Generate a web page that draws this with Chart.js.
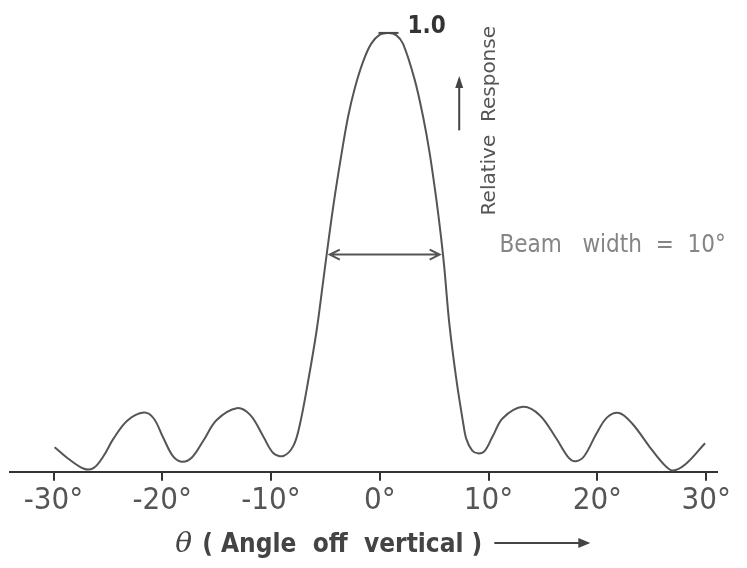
<!DOCTYPE html>
<html>
<head>
<meta charset="utf-8">
<script src="https://cdn.jsdelivr.net/npm/chart.js@4"></script>
<style>
  body { margin: 0; background: #fff; }
  canvas { display: block; }
</style>
</head>
<body>
<canvas id="beam" width="747" height="568"></canvas>
<script>
// angle off vertical (deg) and relative response
const angles = [-29.9, -28.7, -27.2, -26.3, -25.4, -24.5, -23.2, -21.7, -20.8, -19.9, -19.0, -18.2,
  -17.3, -16.2, -15.0, -13.15, -11.9, -10.7, -9.8, -8.87, -7.95, -7.34, -6.58, -5.81, -5.23,
  -4.86, -4.28, -3.51, -2.91, -2.29, -1.53, -0.8, 0, 0.8, 1.5, 2.14, 3.21, 3.97, 4.59, 5.2,
  5.65, 5.93, 6.38, 7.04, 7.64, 7.95, 8.5, 9.02, 9.63, 10.4, 11.3, 13.15, 14.7, 16.2, 17.4,
  18.04, 18.8, 19.9, 20.9, 22.0, 23.2, 24.8, 26.0, 26.9, 28.1, 29.9];
const response = [0.056, 0.031, 0.007, 0.009, 0.036, 0.075, 0.117, 0.135, 0.122, 0.077, 0.035, 0.023,
  0.032, 0.072, 0.118, 0.145, 0.129, 0.080, 0.043, 0.036, 0.059, 0.109, 0.208, 0.322, 0.430,
  0.500, 0.605, 0.726, 0.810, 0.875, 0.935, 0.975, 0.996, 1.0, 0.995, 0.975, 0.893, 0.810, 0.725, 0.620,
  0.530, 0.465, 0.340, 0.210, 0.115, 0.075, 0.048, 0.042, 0.047, 0.082, 0.122, 0.148, 0.129, 0.077, 0.031,
  0.024, 0.036, 0.086, 0.124, 0.134, 0.110, 0.057, 0.020, 0.003, 0.017, 0.065];
const xTicks = [-30, -20, -10, 0, 10, 20, 30];

// beam width marker (half power points) and label anchors, in data units
const beamEdges = [-4.6, 5.5];
const beamLevel = 0.495;
const peakAngle = 0.8;

const ink = "#4a4a4a";

const notes = {
  id: "notes",
  afterDraw(chart) {
    const c = chart.ctx, x = chart.scales.x, y = chart.scales.y;
    c.save();
    c.strokeStyle = ink;
    c.fillStyle = ink;
    c.lineWidth = 2;

    // peak mark + 1.0
    let px = x.getPixelForValue(peakAngle), py = y.getPixelForValue(1.0);
    c.beginPath();
    c.moveTo(px - 10, py); c.lineTo(px + 10, py);
    c.stroke();
    c.font = "bold 24px 'DejaVu Sans Condensed', 'DejaVu Sans'";
    c.textBaseline = "alphabetic";
    c.fillStyle = "#333";
    c.fillText("1.0", px + 19, py);

    // beam width arrow
    let a = x.getPixelForValue(beamEdges[0]), b = x.getPixelForValue(beamEdges[1]);
    let by = y.getPixelForValue(beamLevel);
    c.strokeStyle = "#555";
    c.beginPath();
    c.moveTo(a, by); c.lineTo(b, by);
    c.moveTo(a + 10, by - 5); c.lineTo(a, by); c.lineTo(a + 10, by + 5);
    c.moveTo(b - 10, by - 5); c.lineTo(b, by); c.lineTo(b - 10, by + 5);
    c.stroke();

    c.fillStyle = "#858585";
    c.font = "24px 'DejaVu Sans Condensed', 'DejaVu Sans'";
    c.textBaseline = "middle";
    c.fillText("Beam   width  =  10°", x.getPixelForValue(11), y.getPixelForValue(0.515));

    // response arrow
    let ax = x.getPixelForValue(7.3);
    let top = y.getPixelForValue(0.895), bot = y.getPixelForValue(0.778);
    c.strokeStyle = "#444";
    c.beginPath();
    c.moveTo(ax, bot); c.lineTo(ax, top);
    c.stroke();
    c.fillStyle = "#444";
    c.beginPath();
    c.moveTo(ax, top - 3); c.lineTo(ax - 4, top + 9); c.lineTo(ax + 4, top + 9);
    c.closePath();
    c.fill();

    // x axis title, theta in italic, then a long arrow
    let tx = x.getPixelForValue(-18.8), ty = chart.height - 16;
    c.textBaseline = "alphabetic";
    c.fillStyle = "#444";
    c.font = "italic 28px 'DejaVu Serif', serif";
    c.fillText("θ", tx, ty);
    tx += c.measureText("θ").width + 10;
    c.font = "bold 26px 'DejaVu Sans Condensed', 'DejaVu Sans'";
    let txt = "( Angle  off  vertical )";
    c.fillText(txt, tx, ty);
    tx += c.measureText(txt).width + 12;
    let ay = ty - 9;
    c.strokeStyle = "#444";
    c.beginPath();
    c.moveTo(tx, ay); c.lineTo(tx + 86, ay);
    c.stroke();
    c.beginPath();
    c.moveTo(tx + 96, ay); c.lineTo(tx + 84, ay - 5); c.lineTo(tx + 84, ay + 5);
    c.closePath();
    c.fill();

    // vertical label
    c.translate(x.getPixelForValue(10.55), y.getPixelForValue(0.80));
    c.rotate(-Math.PI / 2);
    c.textAlign = "center";
    c.fillStyle = "#555";
    c.font = "20px 'DejaVu Sans'";
    c.fillText("Relative  Response", 0, 0);
    c.restore();
  }
};

new Chart(document.getElementById("beam"), {
  type: "line",
  data: {
    datasets: [{
      data: angles.map((v, i) => ({ x: v, y: response[i] })),
      borderColor: "#555",
      borderWidth: 2,
      pointRadius: 0,
      tension: 0.35,
      fill: false,
      clip: false
    }]
  },
  options: {
    responsive: false,
    animation: false,
    layout: { padding: { left: 10, right: 30, top: 0, bottom: 46 } },
    plugins: { legend: { display: false }, tooltip: { enabled: false } },
    scales: {
      x: {
        type: "linear",
        min: -34,
        max: 31,
        afterBuildTicks: s => { s.ticks = xTicks.map(v => ({ value: v })); },
        border: { display: true, color: "#333", width: 2 },
        grid: { drawOnChartArea: false, tickLength: 9, color: "#333", lineWidth: 2 },
        ticks: {
          padding: 2,
          color: "#555",
          font: { family: "'Liberation Sans Narrow', 'DejaVu Sans Condensed', sans-serif", size: 31 },
          callback: v => v + "°"
        },
        title: { display: false }
      },
      y: {
        display: false,
        min: 0,
        max: 1.075
      }
    }
  },
  plugins: [notes]
});
</script>
</body>
</html>
